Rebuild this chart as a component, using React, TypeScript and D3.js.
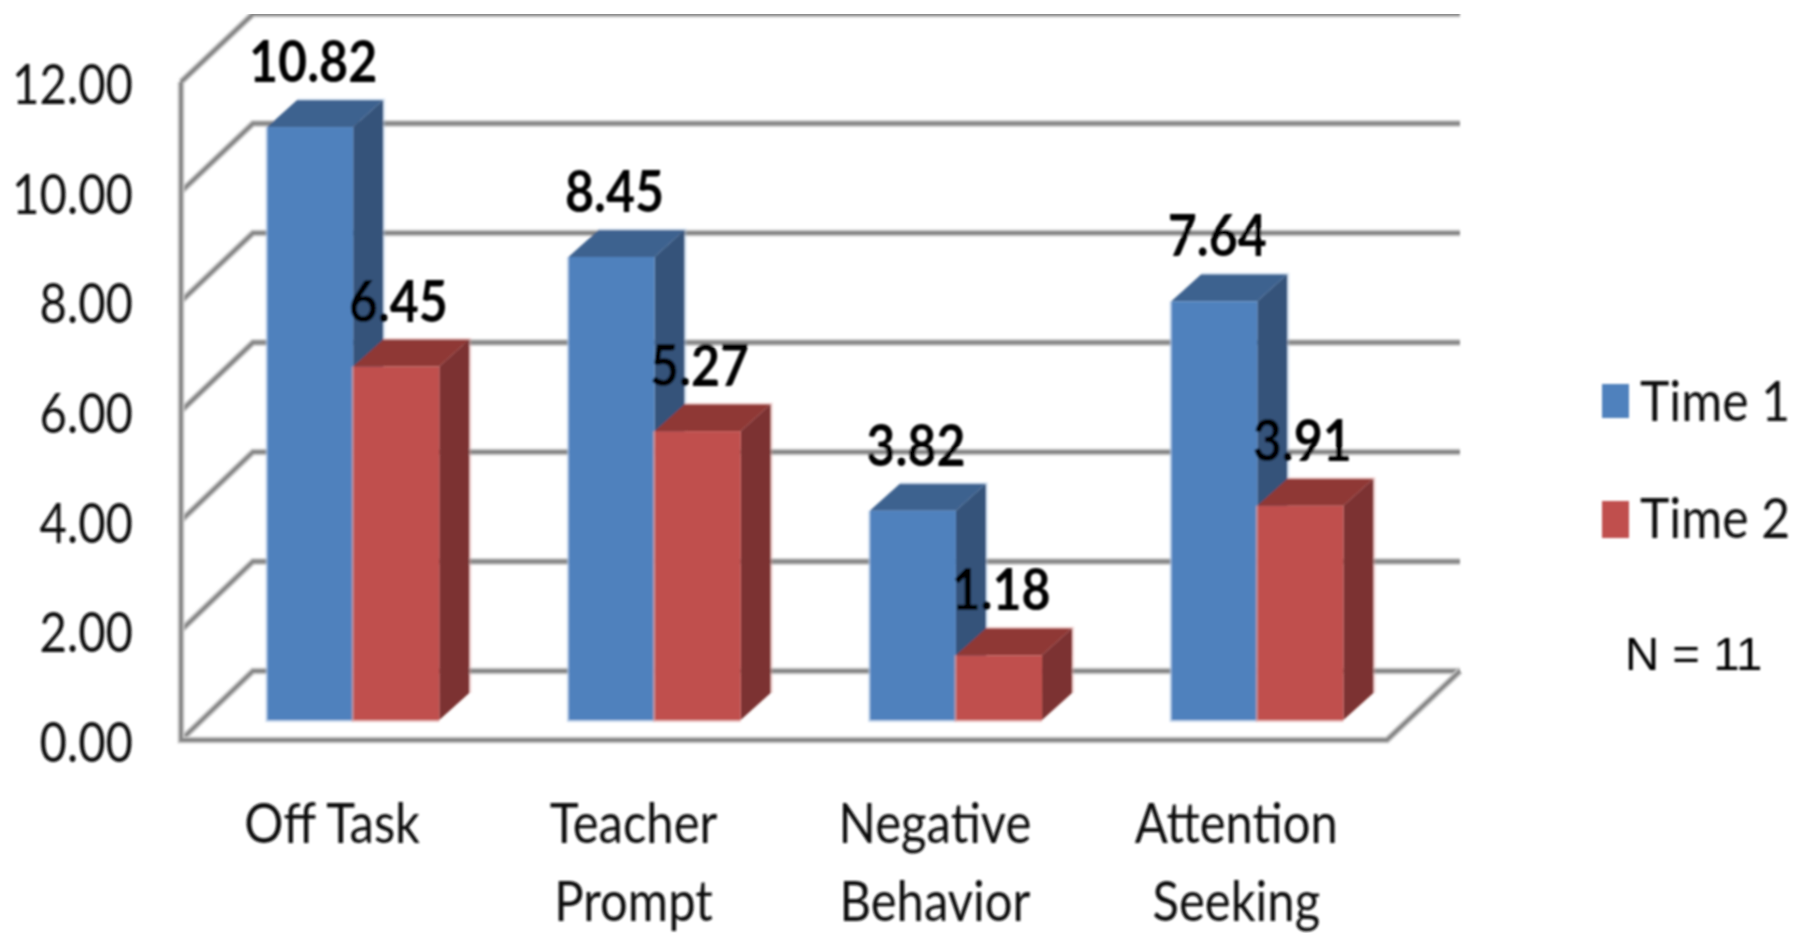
import React from "react";
import * as d3 from "d3";

const categories = ["Off Task", "Teacher Prompt", "Negative Behavior", "Attention Seeking"];
const categoryLines = [["Off Task"], ["Teacher", "Prompt"], ["Negative", "Behavior"], ["Attention", "Seeking"]];
const time1 = [10.82, 8.45, 3.82, 7.64];
const time2 = [6.45, 5.27, 1.18, 3.91];
const yTicks = [0, 2, 4, 6, 8, 10, 12];
const seriesNames = ["Time 1", "Time 2"];

const W = 1802, H = 935;
const FONT = "Lato, Carlito, 'Open Sans', sans-serif";
const GRID = "#868686", HALO = "#cfcfcf";
const colors = [
  { front: "#4F81BD", top: "#3E628F", side: "#34527A", edge: "#A9C3E2" },
  { front: "#C0504D", top: "#8F3836", side: "#7C3230", edge: "#DE9E9C" },
];

const frontY = d3.scaleLinear().domain([0, 12]).range([740, 82]);
const backY = d3.scaleLinear().domain([0, 12]).range([671, 14]);
const barY = d3.scaleLinear().domain([0, 12]).range([720, 62.4]);
const group = d3.scaleBand<string>().domain(categories).range([202.5, 1408]).paddingInner(0.4286).paddingOuter(0.2143);
const inner = d3.scaleBand<string>().domain(seriesNames).range([0, group.bandwidth()]);

const L = 181, BX = 253, R = 1387, BR = 1460;
const DX = 30, DY = 27;
const line = d3.line();

function Glow({ pts }: { pts: [number, number][] }) {
  const d = line(pts) || "";
  return (
    <g fill="none" strokeLinejoin="miter">
      <path d={d} stroke={HALO} strokeWidth={7} />
      <path d={d} stroke={GRID} strokeWidth={3.8} />
    </g>
  );
}

function Txt({ x, y, s, sx = 0.8, size = 57, anchor = "middle", weight = 400, family = FONT, fill = "#111" }: any) {
  return (
    <text transform={`translate(${x},${y}) scale(${sx},1)`} textAnchor={anchor} fontFamily={family} fontSize={size} fontWeight={weight} fill={fill}>
      {s}
    </text>
  );
}

function Bar({ x, w, v, c }: { x: number; w: number; v: number; c: (typeof colors)[0] }) {
  const y0 = barY(0), y1 = barY(v);
  const poly = (p: number[][]) => p.map((q) => q.join(",")).join(" ");
  return (
    <g>
      <polygon points={poly([[x + w, y1], [x + w + DX, y1 - DY], [x + w + DX, y0 - DY], [x + w, y0]])} fill={c.side} />
      <polygon points={poly([[x, y1], [x + DX, y1 - DY], [x + w + DX, y1 - DY], [x + w, y1]])} fill={c.top} />
      <path d={`M${x + DX},${y1 - DY - 0.5}H${x + w + DX + 1}V${y0 - DY}`} fill="none" stroke={c.edge} strokeOpacity={0.45} strokeWidth={2} />
      <rect x={x} y={y1} width={w} height={y0 - y1} fill={c.front} />
      <path d={`M${x - 0.5},${y1}V${y0 + 1}H${x + w}`} fill="none" stroke={c.edge} strokeOpacity={0.7} strokeWidth={2} />
    </g>
  );
}

export default function App() {
  return (
    <svg width={W} height={H} style={{ position: "absolute", left: 0, top: 0, background: "#fff", display: "block" }}>
      <defs>
        <filter id="soft" x="0" y="0" width="100%" height="100%">
          <feGaussianBlur stdDeviation="0.8" />
        </filter>
      </defs>
      <g filter="url(#soft)">
        {yTicks.map((t) => (
          <Glow key={t} pts={[[L, frontY(t)], [BX, backY(t)], [BR, backY(t)]]} />
        ))}
        <Glow pts={[[L, frontY(12)], [L, frontY(0)], [R, frontY(0)], [BR, backY(0)]]} />

        {categories.map((cat, i) => {
          const gx = group(cat)!;
          return (
            <g key={cat}>
              <Bar x={gx + inner("Time 1")!} w={inner.bandwidth()} v={time1[i]} c={colors[0]} />
              <Bar x={gx + inner("Time 2")!} w={inner.bandwidth()} v={time2[i]} c={colors[1]} />
            </g>
          );
        })}

        {categories.map((cat, i) => {
          const gx = group(cat)!;
          const w = inner.bandwidth();
          return (
            <g key={cat}>
              <Txt x={gx + inner("Time 1")! + w / 2 + 3} y={barY(time1[i]) - DY - 18} s={time1[i].toFixed(2)} weight={700} fill="#000" sx={0.88} />
              <Txt x={gx + inner("Time 2")! + w / 2 + 2} y={barY(time2[i]) - DY - 18} s={time2[i].toFixed(2)} weight={700} fill="#000" sx={0.88} />
            </g>
          );
        })}

        {yTicks.map((t) => (
          <Txt key={t} x={133} y={frontY(t) + 22} s={t.toFixed(2)} anchor="end" sx={0.83} />
        ))}

        {categories.map((cat, i) => {
          const cx = group(cat)! + group.bandwidth() / 2 - 21;
          return categoryLines[i].map((l, k) => <Txt key={l} x={cx} y={843 + k * 78} s={l} sx={0.86} />);
        })}

        {seriesNames.map((s, i) => (
          <g key={s}>
            <rect x={1602} y={i === 0 ? 384 : 501} width={27} height={i === 0 ? 34 : 37} fill={colors[i].front} />
            <Txt x={1640} y={i === 0 ? 421 : 538} s={s} anchor="start" sx={0.875} />
          </g>
        ))}
        <Txt x={1625} y={670} s="N = 11" anchor="start" size={46} sx={1.03} family="'Liberation Sans', Arial, sans-serif" fill="#000" />
      </g>
    </svg>
  );
}
